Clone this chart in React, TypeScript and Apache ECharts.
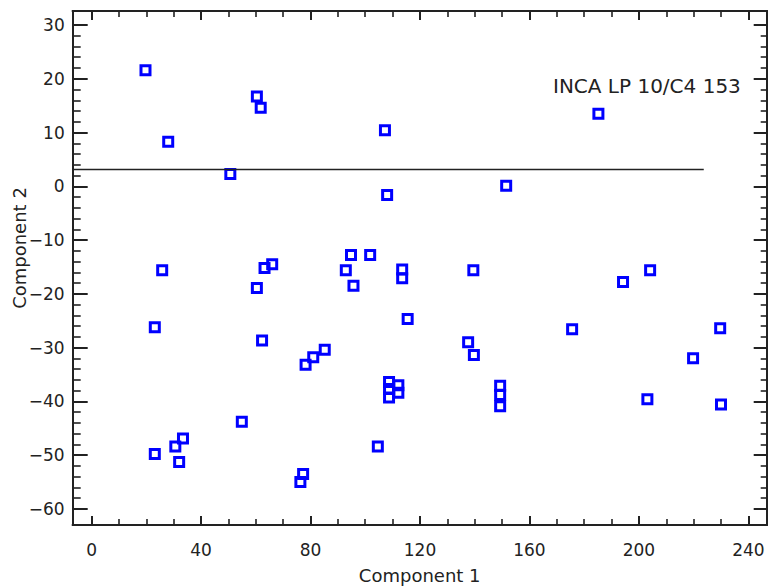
import React, { useEffect, useRef } from "react";
import * as echarts from "echarts";

const xRange = [-6.9, 246.7];
const yRange = [-63, 32.6];
const xMajorTicks = [0, 40, 80, 120, 160, 200, 240];
const xMinorTicks = [10, 20, 30, 50, 60, 70, 90, 100, 110, 130, 140, 150, 170, 180, 190, 210, 220, 230];
const yMajorTicks = [-60, -50, -40, -30, -20, -10, 0, 10, 20, 30];
const yMinorTicks = [
  -58, -56, -54, -52, -48, -46, -44, -42, -38, -36, -34, -32, -28, -26, -24, -22,
  -18, -16, -14, -12, -8, -6, -4, -2, 2, 4, 6, 8, 12, 14, 16, 18, 22, 24, 26, 28,
];

const comp1 = [
  19.7, 60.4, 61.8, 28.0, 50.7, 107.2, 108.0, 151.5, 185.2, 94.8, 101.8, 25.8, 63.2,
  66.0, 60.4, 23.1, 62.3, 78.2, 54.9, 33.4, 30.6, 23.1, 32.0, 76.3, 77.3, 92.9, 113.5,
  113.5, 139.5, 95.7, 115.5, 137.6, 139.7, 85.2, 81.0, 108.7, 112.1, 108.7, 112.1, 108.7,
  149.3, 149.3, 149.3, 104.6, 204.1, 194.2, 175.6, 229.7, 219.8, 203.1, 230.0,
];
const comp2 = [
  21.6, 16.7, 14.6, 8.3, 2.3, 10.4, -1.6, 0.1, 13.5, -12.8, -12.8, -15.6, -15.2,
  -14.5, -18.9, -26.2, -28.7, -33.2, -43.8, -46.9, -48.4, -49.8, -51.3, -55.0, -53.5, -15.6, -15.5,
  -17.1, -15.6, -18.5, -24.7, -29.0, -31.4, -30.4, -31.8, -36.4, -37.0, -37.7, -38.4, -39.3,
  -37.1, -38.8, -40.9, -48.4, -15.6, -17.8, -26.6, -26.4, -32.0, -39.6, -40.6,
];

const refLineY = 3.1;
const refLineXEnd = 223.7;
const annotation = "INCA LP 10/C4 153";

const FONT = "DejaVu Sans";
const INK = "#222222";

const fmt = (v: number) => String(v).replace("-", "\u2212");

export default function App() {
  const ref = useRef<HTMLDivElement>(null);
  useEffect(() => {
    if (!ref.current) return;
    const chart = echarts.init(ref.current, undefined, { renderer: "svg" });
    const points = comp1.map((x, i) => [x, comp2[i]]);

    const xBase = (pos: "bottom" | "top", ticks: number[], len: number, major: boolean, withLabel: boolean) => ({
      type: "value",
      position: pos,
      min: xRange[0],
      max: xRange[1],
      axisLine: { show: true, onZero: false, lineStyle: { color: INK, width: 2 } },
      axisTick: { show: true, inside: true, length: len, customValues: ticks, lineStyle: { color: INK, width: major ? 2 : 1.6 } },
      axisLabel: withLabel
        ? { show: true, customValues: ticks, formatter: fmt, fontFamily: FONT, fontSize: 17, color: INK, margin: 16 }
        : { show: false },
      splitLine: { show: false },
    });
    const yBase = (pos: "left" | "right", ticks: number[], len: number, major: boolean, withLabel: boolean) => ({
      type: "value",
      position: pos,
      min: yRange[0],
      max: yRange[1],
      axisLine: { show: true, onZero: false, lineStyle: { color: INK, width: 2 } },
      axisTick: { show: true, inside: true, length: len, customValues: ticks, lineStyle: { color: INK, width: major ? 2 : 1.6 } },
      axisLabel: withLabel
        ? { show: true, customValues: ticks, formatter: fmt, fontFamily: FONT, fontSize: 17, color: INK, margin: 8 }
        : { show: false },
      splitLine: { show: false },
    });

    const xAxes: any[] = [
      {
        ...xBase("bottom", xMajorTicks, 9, true, true),
        name: "Component 1",
        nameLocation: "middle",
        nameGap: 41,
        nameMoveOverlap: false,
        nameTextStyle: { fontFamily: FONT, fontSize: 18, color: INK },
      },
      xBase("bottom", xMinorTicks, 6, false, false),
      xBase("top", xMajorTicks, 9, true, false),
      xBase("top", xMinorTicks, 6, false, false),
    ];
    const yAxes: any[] = [
      {
        ...yBase("left", yMajorTicks, 15, true, true),
        name: "Component 2",
        nameLocation: "middle",
        nameGap: 44,
        nameMoveOverlap: false,
        nameTextStyle: { fontFamily: FONT, fontSize: 18, color: INK, padding: [0, 0, 0, 40] },
      },
      yBase("left", yMinorTicks, 8, false, false),
      yBase("right", yMajorTicks, 13, true, false),
      yBase("right", yMinorTicks, 6, false, false),
    ];

    chart.setOption({
      animation: false,
      backgroundColor: "#ffffff",
      grid: { left: 72.7, top: 11, right: 1.3, bottom: 61, containLabel: false, outerBoundsMode: "none" },
      xAxis: xAxes,
      yAxis: yAxes,
      graphic: [
        {
          type: "text",
          left: 553,
          top: 76,
          style: { text: annotation, fontFamily: FONT, fontSize: 20, fill: INK },
        },
      ],
      series: [
        {
          type: "line",
          xAxisIndex: 0,
          yAxisIndex: 0,
          data: [
            [xRange[0], refLineY],
            [refLineXEnd, refLineY],
          ],
          symbol: "none",
          lineStyle: { color: INK, width: 1.5 },
          silent: true,
        },
        {
          type: "scatter",
          xAxisIndex: 0,
          yAxisIndex: 0,
          data: points,
          symbol: "rect",
          symbolSize: 9,
          itemStyle: { color: "rgba(0,0,0,0)", borderColor: "#0000ff", borderWidth: 3, opacity: 1 },
        },
      ],
    });
    return () => chart.dispose();
  }, []);
  return (
    <div
      ref={ref}
      style={{ position: "fixed", left: 0, top: 0, width: 768, height: 586, background: "#fff" }}
    />
  );
}
